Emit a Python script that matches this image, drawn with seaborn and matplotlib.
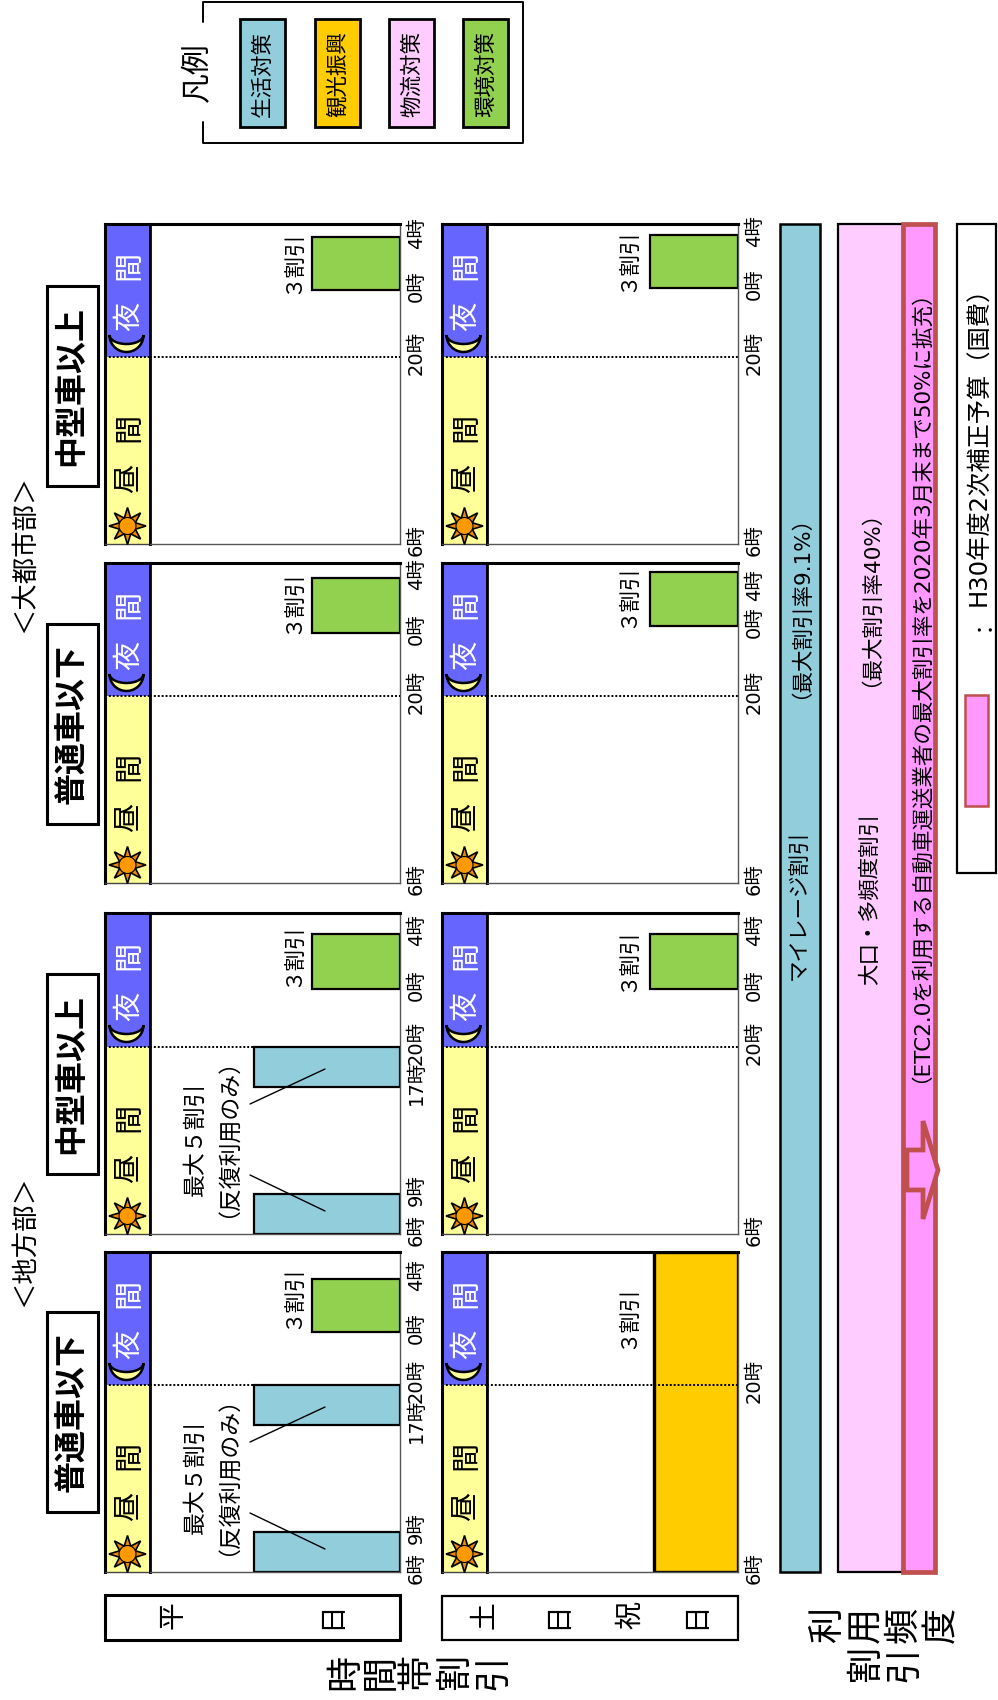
import numpy as np
import pandas as pd
import matplotlib
matplotlib.use("Agg")
import matplotlib.pyplot as plt
from matplotlib.patches import Rectangle, Polygon, Circle
from matplotlib.transforms import ScaledTranslation
import seaborn as sns

sns.set_theme(style="white")
plt.rcParams["font.family"] = ["DejaVu Sans", "Noto Sans CJK JP"]
plt.rcParams["ytick.alignment"] = "center"

W, H = 998, 1700

# data
VEHICLES = ["普通車以下", "中型車以上", "普通車以下", "中型車以上"]
REGIONS = ["＜地方部＞", "＜大都市部＞"]
LEGEND_LABELS = ["生活対策", "観光振興", "物流対策", "環境対策"]
LEGEND_COLORS = ["#92CDDC", "#FFCC00", "#FFCCFF", "#92D050"]

AXIS_START = 6
DAY_END = 20
AXIS_END = [30, 30, 30, 29.95]

# night discount, 0時 to 4時 as drawn (3割)
NIGHT_START_WEEKDAY = [24, 24.3, 24.75, 24.98]
NIGHT_END_WEEKDAY = [28, 28.4, 28.9, 28.95]
NIGHT_START_HOLIDAY = [None, 24.3, 25.3, 25.14]
NIGHT_END_HOLIDAY = [None, 28.4, 29.3, 29.1]
# the 4時 label of this row does not sit at the end of its bar in column 3
NIGHT_LABEL_HOLIDAY = [None, 28.4, 28.05, 29.1]
NIGHT_RATE = 3.0

# commuter discount (最大5割), only on 地方部 weekdays
COMMUTE_START = [6, 17]
COMMUTE_END = [9, 20]
COMMUTE_RATE = 5.0

# holiday tourism discount (3割), only on 地方部 普通車以下
TOURISM_START = 6
TOURISM_END = 30
TOURISM_RATE = 2.85
RATE_MAX = 8.55

# layout
COL_TOP = [1252, 913, 563, 224]
COL_BOTTOM = [1572, 1234, 883, 544]
ROW_LEFT = [105, 442]
ROW_STRIP = [150, 487]
ROW_RIGHT = [400, 738]
HEADER_TOP = [1312, 974, 624, 286]
NIGHT_NOTE_Y_WEEKDAY = [1297, 955, 602, 262]
NIGHT_NOTE_Y_HOLIDAY = [1317, 960, 596, 260]

fig = plt.figure(figsize=(W / 100, H / 100), dpi=100)


def px_axes(x0, x1, y0, y1, **kw):
    return fig.add_axes([x0 / W, 1 - y1 / H, (x1 - x0) / W, (y1 - y0) / H], **kw)


def span_bar(ax, start, end, value, color, lw=0, edge="black"):
    df = pd.DataFrame({"value": [value], "mid": [(start + end) / 2]})
    sns.barplot(data=df, x="value", y="mid", orient="y", native_scale=True,
                width=end - start, color=color, saturation=1, errorbar=None,
                linewidth=lw, edgecolor=edge, ax=ax)


def style_spines(ax, widths, colors):
    for side, lw, col in zip(["top", "left", "right", "bottom"], widths, colors):
        ax.spines[side].set_visible(True)
        ax.spines[side].set_linewidth(lw)
        ax.spines[side].set_color(col)


def draw_panel(row, col, bars, ticks, labels):
    y0, y1 = COL_TOP[col], COL_BOTTOM[col]
    top = AXIS_END[col]

    # day / night strip
    strip = px_axes(ROW_LEFT[row], ROW_STRIP[row], y0, y1)
    span_bar(strip, AXIS_START, DAY_END, 1, "#FFFF99")
    span_bar(strip, DAY_END, top, 1, "#6666FF")
    strip.axhline(DAY_END, color="black", lw=1.4, ls=(0, (1, 1)))
    strip.set_xlim(0, 1)
    strip.set_ylim(AXIS_START, top)
    strip.set_xlabel("")
    strip.set_ylabel("")
    strip.set_xticks([])
    strip.set_yticks([])
    style_spines(strip, [2.2, 2.2, 2.0, 1.0], ["black", "black", "black", "#444444"])

    ax = px_axes(ROW_STRIP[row], ROW_RIGHT[row], y0, y1)
    for start, end, rate, color, lw in bars:
        span_bar(ax, start, end, rate, color, lw=lw)
    ax.axhline(DAY_END, color="black", lw=1.4, ls=(0, (1, 1)), zorder=5)
    ax.set_xlim(RATE_MAX, 0)
    ax.set_ylim(AXIS_START, top)
    ax.set_xlabel("")
    ax.set_ylabel("")
    ax.set_xticks([])
    ax.yaxis.tick_right()
    ax.set_yticks(ticks)
    ax.set_yticklabels(labels, fontsize=14, color="black")
    ax.tick_params(axis="y", length=0, pad=5, labelrotation=90)
    shift = ScaledTranslation(0, 4 / 100, fig.dpi_scale_trans)
    for lbl in ax.get_yticklabels():
        lbl.set_transform(lbl.get_transform() + shift)
    style_spines(ax, [2.2, 2.0, 1.0, 1.0], ["black", "black", "#555555", "#555555"])


green, blue, orange = LEGEND_COLORS[3], LEGEND_COLORS[0], LEGEND_COLORS[1]

for col in range(4):
    # weekday row
    bars = [(NIGHT_START_WEEKDAY[col], NIGHT_END_WEEKDAY[col], NIGHT_RATE, green, 1.6)]
    ticks = [AXIS_START, DAY_END, NIGHT_START_WEEKDAY[col], NIGHT_END_WEEKDAY[col]]
    labels = ["6時", "20時", "0時", "4時"]
    if col < 2:
        for s, e in zip(COMMUTE_START, COMMUTE_END):
            bars.append((s, e, COMMUTE_RATE, blue, 1.6))
        ticks = [6, 9, 17, 20, NIGHT_START_WEEKDAY[col], NIGHT_END_WEEKDAY[col]]
        labels = ["6時", "9時", "17時", "20時", "0時", "4時"]
    draw_panel(0, col, bars, ticks, labels)

    # holiday row
    if NIGHT_START_HOLIDAY[col] is None:
        bars = [(TOURISM_START, TOURISM_END, TOURISM_RATE, orange, 2.4)]
        ticks = [AXIS_START, DAY_END]
        labels = ["6時", "20時"]
    else:
        bars = [(NIGHT_START_HOLIDAY[col], NIGHT_END_HOLIDAY[col], NIGHT_RATE, green, 1.6)]
        ticks = [AXIS_START, DAY_END, NIGHT_START_HOLIDAY[col], NIGHT_LABEL_HOLIDAY[col]]
        labels = ["6時", "20時", "0時", "4時"]
    draw_panel(1, col, bars, ticks, labels)

# everything else sits on a full page overlay in pixels
ov = fig.add_axes([0, 0, 1, 1], zorder=20)
ov.set_xlim(0, W)
ov.set_ylim(H, 0)
ov.axis("off")
ov.patch.set_alpha(0)


def rtext(x, y, s, size, **kw):
    # a leading （ has a blank half that pushes the ink away from the anchor
    if s.startswith("（"):
        x, y = x - 10, y - 12
    ov.text(x, y, s, fontsize=size, rotation=90, ha="center", va="center",
            color=kw.pop("color", "black"), **kw)


def box(x0, y0, x1, y1, face="white", edge="black", lw=2.2, z=2):
    ov.add_patch(Rectangle((x0, y0), x1 - x0, y1 - y0, facecolor=face,
                           edgecolor=edge, linewidth=lw, zorder=z))


def sun(cx, cy):
    ang = np.linspace(0, 2 * np.pi, 16, endpoint=False)
    rad = np.where(np.arange(16) % 2 == 0, 18.5, 8.5)
    ov.add_patch(Polygon(np.c_[cx + rad * np.cos(ang), cy + rad * np.sin(ang)],
                         facecolor="#E98A00", edgecolor="black", lw=1.2, zorder=3))
    ov.add_patch(Circle((cx, cy), 8.5, facecolor="#FF9900", edgecolor="black", lw=0.8, zorder=4))


def moon(cx, cy):
    t = np.linspace(0, np.pi, 30)
    outer = np.c_[cx + 17 * np.cos(t), cy - 8 + 17 * np.sin(t)]
    inner = np.c_[cx + 17 * np.cos(t[::-1]), cy - 8 + 9 * np.sin(t[::-1])]
    ov.add_patch(Polygon(np.r_[outer, inner], facecolor="#FFFF99", edgecolor="black",
                         lw=1.8, zorder=3))


for col in range(4):
    bottom = COL_BOTTOM[col]
    top = HEADER_TOP[col]
    box(47, top, 98, top + 200)
    rtext(72, top + 100, VEHICLES[col], 23, fontweight="bold", zorder=5)
    for row in range(2):
        cx = (ROW_LEFT[row] + ROW_STRIP[row]) / 2
        sun(cx, bottom - 18)
        rtext(cx + 2, bottom - 66, "昼", 21)
        rtext(cx + 2, bottom - 117, "間", 21)
        moon(cx - 1, bottom - 201)
        rtext(cx + 2, bottom - 228, "夜", 21, color="white")
        rtext(cx + 2, bottom - 279, "間", 21, color="white")
    rtext(293, NIGHT_NOTE_Y_WEEKDAY[col], "３割引", 15.5)
    rtext(628, NIGHT_NOTE_Y_HOLIDAY[col], "３割引", 15.5)

# commuter notes and leader lines on the two 地方部 panels
for off in [0, -338]:
    rtext(195, 1477 + off, "最大５割引", 16.5)
    rtext(226, 1476 + off, "（反復利用のみ）", 16.5)
    ov.plot([250, 325], [1442 + off, 1407 + off], color="black", lw=1, zorder=6)
    ov.plot([250, 325], [1513 + off, 1549 + off], color="black", lw=1, zorder=6)

rtext(25, 1241, REGIONS[0], 19)
rtext(25, 554, REGIONS[1], 19)

# day type boxes
box(105, 1595, 400, 1640)
rtext(173, 1615, "平", 20, zorder=5)
rtext(331, 1615, "日", 20, zorder=5)
box(442, 1596, 738, 1640, lw=1.6)
for x, s in zip([485, 557, 630, 695], ["土", "日", "祝", "日"]):
    rtext(x, 1615, s, 20, zorder=5)

for x, s in zip([345, 381, 417, 455, 493], "時間帯割引"):
    rtext(x, 1672, s, 26)
for x, s in zip([828, 866, 904, 942], "利用頻度"):
    rtext(x, 1625, s, 26)
for x, s in zip([866, 904], "割引"):
    rtext(x, 1664, s, 26)

# frequency rails
rails = px_axes(780, 935, COL_TOP[3], COL_BOTTOM[0], zorder=10)
rails.patch.set_alpha(0)
RAIL_LEFT = [780, 838, 903]
RAIL_RIGHT = [820, 903, 935]
RAIL_COLORS = ["#92CDDC", "#FFCCFF", "#FF99FF"]
RAIL_EDGES = ["black", "black", "#C0504D"]
RAIL_LW = [1.8, 1.6, 3.4]
for left, right, color, edge, lw in zip(RAIL_LEFT, RAIL_RIGHT, RAIL_COLORS, RAIL_EDGES, RAIL_LW):
    df = pd.DataFrame({"pos": [(left + right) / 2], "full": [1]})
    sns.barplot(data=df, x="pos", y="full", orient="x", native_scale=True,
                width=right - left, color=color, saturation=1, errorbar=None,
                linewidth=lw, edgecolor=edge, ax=rails)
rails.set_xlim(780, 935)
rails.set_ylim(0, 1)
rails.axis("off")
for p in rails.patches:
    p.set_clip_on(False)

rtext(800, 905, "マイレージ割引", 15.5)
rtext(800, 608, "（最大割引率9.1%）", 15.5)
rtext(870, 899, "大口・多頻度割引", 15.5)
rtext(870, 600, "（最大割引率40%）", 15.5)
rtext(919, 688, "（ETC2.0を利用する自動車運送業者の最大割引率を2020年3月末まで50%に拡充）", 15.5)
ov.add_patch(Polygon([(907, 1150), (923, 1150), (923, 1121), (938, 1170),
                      (923, 1219), (923, 1190), (907, 1190)],
                     facecolor="#FF99FF", edgecolor="#C0504D", lw=3.4, zorder=6))

# budget note
box(957, 224, 996, 873, lw=1.6)
box(965, 695, 988, 806, face="#FF99FF", edge="#C0504D", lw=1.8, z=3)
rtext(979, 620, "：", 16, zorder=5)
rtext(979, 440, "H30年度2次補正予算（国費）", 17.5, zorder=5)

# legend
ov.plot([203, 203, 523, 523, 203, 203], [22, 2, 2, 143, 143, 122], color="black", lw=1.4, zorder=2)
rtext(198, 72, "凡例", 21.5, zorder=5)
SW_LEFT = [240, 315, 389, 463]
for left, lab, color in zip(SW_LEFT, LEGEND_LABELS, LEGEND_COLORS):
    box(left, 19, left + 45, 127, face=color, lw=2.0)
    rtext(left + 22.5, 74, lab, 15.5, zorder=5)

fig.savefig("out.png", dpi=100)
